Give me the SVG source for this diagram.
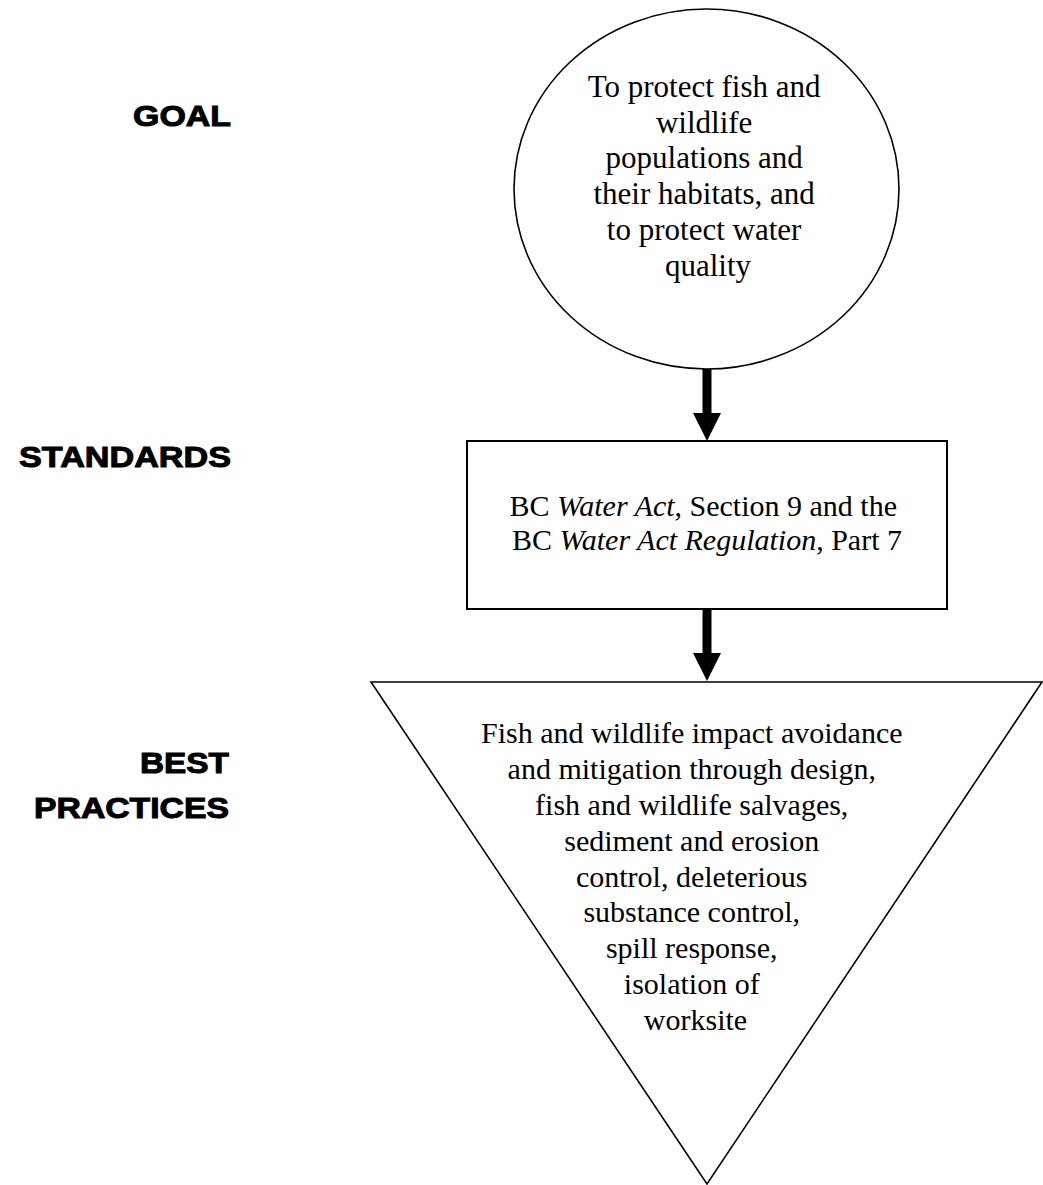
<svg xmlns="http://www.w3.org/2000/svg" width="1043" height="1185" viewBox="0 0 1043 1185">
<style>
.shape{fill:#fff;stroke:#000;stroke-width:1.6}
.box{fill:#fff;stroke:#000;stroke-width:2}
.t{font-family:"Liberation Serif","Times New Roman",serif;font-size:30px;fill:#000;text-anchor:middle}
.i{font-style:italic}
.lbl{font-family:"Liberation Sans",Arial,sans-serif;font-weight:bold;font-size:30px;fill:#000;stroke:#000;stroke-width:1;text-anchor:end}
.stem{stroke:#000;stroke-width:9;fill:none}
.head{fill:#000}
</style>
<rect width="1043" height="1185" fill="#fff"/>
<g id="labels">
<text class="lbl" x="231" y="126" textLength="98" lengthAdjust="spacingAndGlyphs">GOAL</text>
<text class="lbl" x="231" y="467" textLength="212" lengthAdjust="spacingAndGlyphs">STANDARDS</text>
<text class="lbl" x="229" y="773" textLength="89" lengthAdjust="spacingAndGlyphs">BEST</text>
<text class="lbl" x="229" y="818" textLength="195" lengthAdjust="spacingAndGlyphs">PRACTICES</text>
</g>
<g id="goal">
<ellipse class="shape" cx="706.5" cy="189" rx="192.5" ry="180"/>
<text class="t" style="font-size:31px">
<tspan x="708" y="97">To protect fish and</tspan>
<tspan x="708" y="133">wildlife</tspan>
<tspan x="708" y="168">populations and</tspan>
<tspan x="708" y="204">their habitats, and</tspan>
<tspan x="708" y="240">to protect water</tspan>
<tspan x="708" y="276">quality</tspan>
</text>
</g>
<g id="standards">
<rect class="box" x="467" y="441" width="480" height="168"/>
<text class="t">
<tspan x="707" y="516">BC <tspan class="i">Water Act</tspan>, Section 9 and the</tspan>
<tspan x="707" y="550">BC <tspan class="i">Water Act Regulation</tspan>, Part 7</tspan>
</text>
</g>
<g id="practices">
<polygon class="shape" points="371,682 1042,682 707,1184"/>
<text class="t">
<tspan x="695.5" y="743">Fish and wildlife impact avoidance</tspan>
<tspan x="695.5" y="779">and mitigation through design,</tspan>
<tspan x="695.5" y="815">fish and wildlife salvages,</tspan>
<tspan x="695.5" y="851">sediment and erosion</tspan>
<tspan x="695.5" y="887">control, deleterious</tspan>
<tspan x="695.5" y="922">substance control,</tspan>
<tspan x="695.5" y="958">spill response,</tspan>
<tspan x="695.5" y="994">isolation of</tspan>
<tspan x="695.5" y="1030">worksite</tspan>
</text>
</g>
<g id="connectors">
<line class="stem" x1="707" y1="369" x2="707" y2="414"/>
<polygon class="head" points="693,413 721,413 707,441"/>
<line class="stem" x1="707" y1="609" x2="707" y2="654"/>
<polygon class="head" points="693,653 721,653 707,681"/>
</g>
</svg>
